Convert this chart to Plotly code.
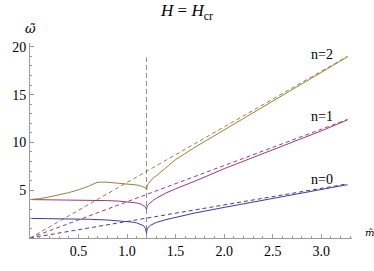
import plotly.graph_objects as go

# ---- data ----
m_left = [0, 0.2, 0.4, 0.6, 0.8, 0.9, 1.0, 1.05, 1.1, 1.14, 1.17, 1.19, 1.2]
m_right = [1.2, 1.205, 1.21, 1.22, 1.24, 1.27, 1.3, 1.4, 1.5, 1.7, 2.0, 2.5, 3.0, 3.27]

w0_left = [2.05, 2.04, 2.01, 1.96, 1.88, 1.82, 1.73, 1.67, 1.58, 1.45, 1.28, 1.0, 0.5]
w0_right = [0.5, 0.85, 1.0, 1.15, 1.32, 1.5, 1.62, 1.92, 2.17, 2.62, 3.2, 4.12, 5.05, 5.58]

w1_left = [4.02, 4.01, 3.99, 3.96, 3.91, 3.87, 3.8, 3.75, 3.67, 3.56, 3.42, 3.25, 3.0]
w1_right = [3.0, 3.25, 3.38, 3.52, 3.72, 3.95, 4.15, 4.7, 5.15, 5.95, 7.25, 9.2, 11.2, 12.35]

m2_left = [0, 0.1, 0.2, 0.3, 0.4, 0.5, 0.6, 0.68, 0.72, 0.8, 0.9, 1.0, 1.05, 1.1, 1.14, 1.17, 1.19, 1.2]
w2_left = [4.02, 4.12, 4.3, 4.5, 4.75, 5.05, 5.4, 5.78, 5.85, 5.83, 5.76, 5.68, 5.62, 5.55, 5.45, 5.35, 5.25, 5.05]
w2_right = [5.05, 5.35, 5.5, 5.7, 5.98, 6.3, 6.5, 7.4, 8.2, 9.5, 11.3, 14.3, 17.3, 18.95]

m_dash = [0, 3.27]
d0 = [0, 5.66]
d1 = [0, 12.4]
d2 = [0, 19.0]

m_crit = [1.2, 1.2]
w_crit = [0, 18.9]

labels = ["n=0", "n=1", "n=2"]
label_m = [3.01, 3.01, 3.01]
label_w = [6.12, 12.67, 19.2]

x_ticks = [0.5, 1.0, 1.5, 2.0, 2.5, 3.0]
x_ticktext = ["0.5", "1.0", "1.5", "2.0", "2.5", "3.0"]
y_ticks = [5, 10, 15, 20]

c0 = "#3d3d99"
c1 = "#993d70"
c2 = "#99803d"
font = "Liberation Serif"
mark_font = "DejaVu Serif"

fig = go.Figure()

fig.add_trace(go.Scatter(x=m_crit, y=w_crit, mode="lines",
                         line=dict(color="#8c8c8c", width=1, dash="5px,3px")))

for c, d in [(c0, d0), (c1, d1), (c2, d2)]:
    fig.add_trace(go.Scatter(x=m_dash, y=d, mode="lines",
                             line=dict(color=c, width=1, dash="4px,3px")))

for c, ml, wl, wr in [(c0, m_left, w0_left, w0_right),
                      (c1, m_left, w1_left, w1_right),
                      (c2, m2_left, w2_left, w2_right)]:
    fig.add_trace(go.Scatter(x=ml + m_right, y=wl + wr, mode="lines",
                             line=dict(color=c, width=1)))

for t, xm, yw in zip(labels, label_m, label_w):
    fig.add_annotation(x=xm, y=yw, text=t, showarrow=False,
                       xanchor="center", yanchor="middle",
                       font=dict(family=font, size=14, color="black"))

# axis labels: omega-tilde (top of y axis) and m-tilde (end of x axis)
fig.add_annotation(x=0, xref="x", y=1.075, yref="paper", text="<i>ω\u0303</i>",
                   showarrow=False, xanchor="center", yanchor="middle",
                   font=dict(family=mark_font, size=13, color="black"))
fig.add_annotation(x=1.053, xref="paper", y=0.03, yref="paper", text="<i>m\u0303</i>",
                   showarrow=False, xanchor="center", yanchor="middle",
                   font=dict(family=mark_font, size=10, color="black"))

fig.update_layout(
    width=374, height=271,
    margin=dict(l=20, r=22, t=43, b=21),
    paper_bgcolor="white", plot_bgcolor="white",
    showlegend=False,
    title=dict(text="<i>H</i> = <i>H</i><sub>cr</sub>", x=0.5, xanchor="center",
               y=0.963, yanchor="middle",
               font=dict(family=font, size=17, color="black")),
    font=dict(family=font, size=14, color="black"),
)

fig.update_xaxes(range=[0, 3.317], showgrid=False, zeroline=False,
                 showline=True, linecolor="#999999", linewidth=1,
                 tickmode="array", tickvals=x_ticks, ticktext=x_ticktext,
                 ticks="inside", ticklen=4, tickcolor="#999999",
                 minor=dict(dtick=0.1, tick0=0, ticks="inside", ticklen=2, tickcolor="#999999"),
                 tickfont=dict(family=font, size=14, color="black"))
fig.update_yaxes(range=[0, 20.4], showgrid=False, zeroline=False,
                 showline=True, linecolor="#999999", linewidth=1,
                 tickmode="array", tickvals=y_ticks,
                 ticks="inside", ticklen=4, tickcolor="#999999",
                 minor=dict(dtick=1, tick0=0, ticks="inside", ticklen=2, tickcolor="#999999"),
                 tickfont=dict(family=font, size=14, color="black"))

fig.write_html("out.html", config={"displayModeBar": False},
               post_script="document.body.style.margin='0';")
